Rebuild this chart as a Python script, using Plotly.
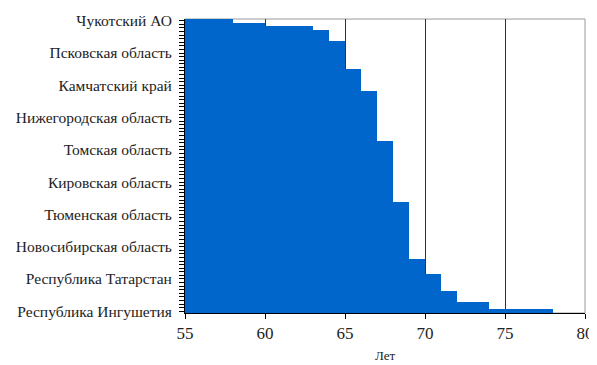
import plotly.graph_objects as go

regions = [
    "Чукотский АО", "Республика Тыва", "Еврейская АО", "Забайкальский край",
    "Амурская область", "Иркутская область", "Магаданская область", "Сахалинская область",
    "Тверская область", "Псковская область", "Новгородская область", "Кемеровская область",
    "Смоленская область", "Республика Бурятия", "Ненецкий АО", "Приморский край",
    "Хабаровский край", "Тульская область", "Камчатский край", "Ленинградская область",
    "Республика Алтай", "Курганская область", "Костромская область", "Ивановская область",
    "Владимирская область", "Республика Хакасия", "Архангельская область", "Нижегородская область",
    "Пермский край", "Алтайский край", "Красноярский край", "Оренбургская область",
    "Республика Карелия", "Рязанская область", "Брянская область", "Орловская область",
    "Томская область", "Вологодская область", "Мурманская область", "Челябинская область",
    "Свердловская область", "Омская область", "Республика Коми", "Ярославская область",
    "Калужская область", "Кировская область", "Курская область", "Тамбовская область",
    "Липецкая область", "Калининградская область", "Удмуртская Республика", "Республика Марий Эл",
    "Саратовская область", "Самарская область", "Тюменская область", "Ульяновская область",
    "Республика Мордовия", "Пензенская область", "Воронежская область", "Московская область",
    "Астраханская область", "Волгоградская область", "Республика Саха (Якутия)", "Новосибирская область",
    "Республика Башкортостан", "Чувашская Республика", "Ростовская область", "Ханты-Мансийский АО",
    "Ямало-Ненецкий АО", "Республика Калмыкия", "Белгородская область", "Краснодарский край",
    "Республика Татарстан", "Ставропольский край", "Республика Адыгея", "Санкт-Петербург",
    "Карачаево-Черкесская Республика", "Кабардино-Балкарская Республика", "Республика Северная Осетия", "Москва",
    "Республика Дагестан", "Республика Ингушетия",
]

years = [
    58, 60, 63, 64, 64, 64, 65, 65, 65, 65, 65, 65, 65, 65,
    66, 66, 66, 66, 66, 66,
    67, 67, 67, 67, 67, 67, 67, 67, 67, 67, 67, 67, 67, 67,
    68, 68, 68, 68, 68, 68, 68, 68, 68, 68, 68, 68, 68, 68, 68, 68, 68,
    69, 69, 69, 69, 69, 69, 69, 69, 69, 69, 69, 69, 69, 69, 69, 69,
    70, 70, 70, 70,
    71, 71, 71, 71, 71,
    72, 72, 72,
    74, 74,
    78,
]

shown_labels = [
    "Чукотский АО", "Псковская область", "Камчатский край", "Нижегородская область",
    "Томская область", "Кировская область", "Тюменская область", "Новосибирская область",
    "Республика Татарстан", "Республика Ингушетия",
]

x_ticks = [55, 60, 65, 70, 75, 80]

fig = go.Figure()
fig.add_trace(
    go.Bar(
        x=years,
        y=regions,
        orientation="h",
        marker=dict(color="#0066CC", line=dict(width=0)),
        showlegend=False,
    )
)

fig.add_shape(
    type="rect", xref="paper", yref="paper", x0=0, x1=1, y0=0, y1=1,
    line=dict(color="#9a9a9a", width=1), layer="below",
)

# page body has an 8px default margin, so the figure is sized to fit inside it
fig.update_layout(
    width=589,
    height=357,
    margin=dict(l=177, r=12, t=11, b=52),
    plot_bgcolor="white",
    paper_bgcolor="white",
    bargap=0,
    font=dict(family="Liberation Serif", color="#222"),
    xaxis=dict(
        range=[55, 80],
        automargin=False,
        tickmode="array",
        tickvals=x_ticks,
        ticks="outside",
        ticklen=5,
        tickcolor="black",
        tickfont=dict(size=17),
        showgrid=True,
        gridcolor="#333333",
        gridwidth=1,
        showline=True,
        linecolor="black",
        linewidth=1,
        zeroline=False,
        title=dict(text="Лет", font=dict(size=13), standoff=8),
    ),
    yaxis=dict(
        type="category",
        autorange="reversed",
        automargin=False,
        tickmode="array",
        tickvals=regions,
        ticktext=[r if r in shown_labels else "" for r in regions],
        ticks="outside",
        ticklen=5,
        tickcolor="black",
        tickfont=dict(size=15.5),
        ticklabelstandoff=4,
        showgrid=False,
        showline=True,
        linecolor="black",
        linewidth=1,
    ),
)

fig.write_html("out.html")
